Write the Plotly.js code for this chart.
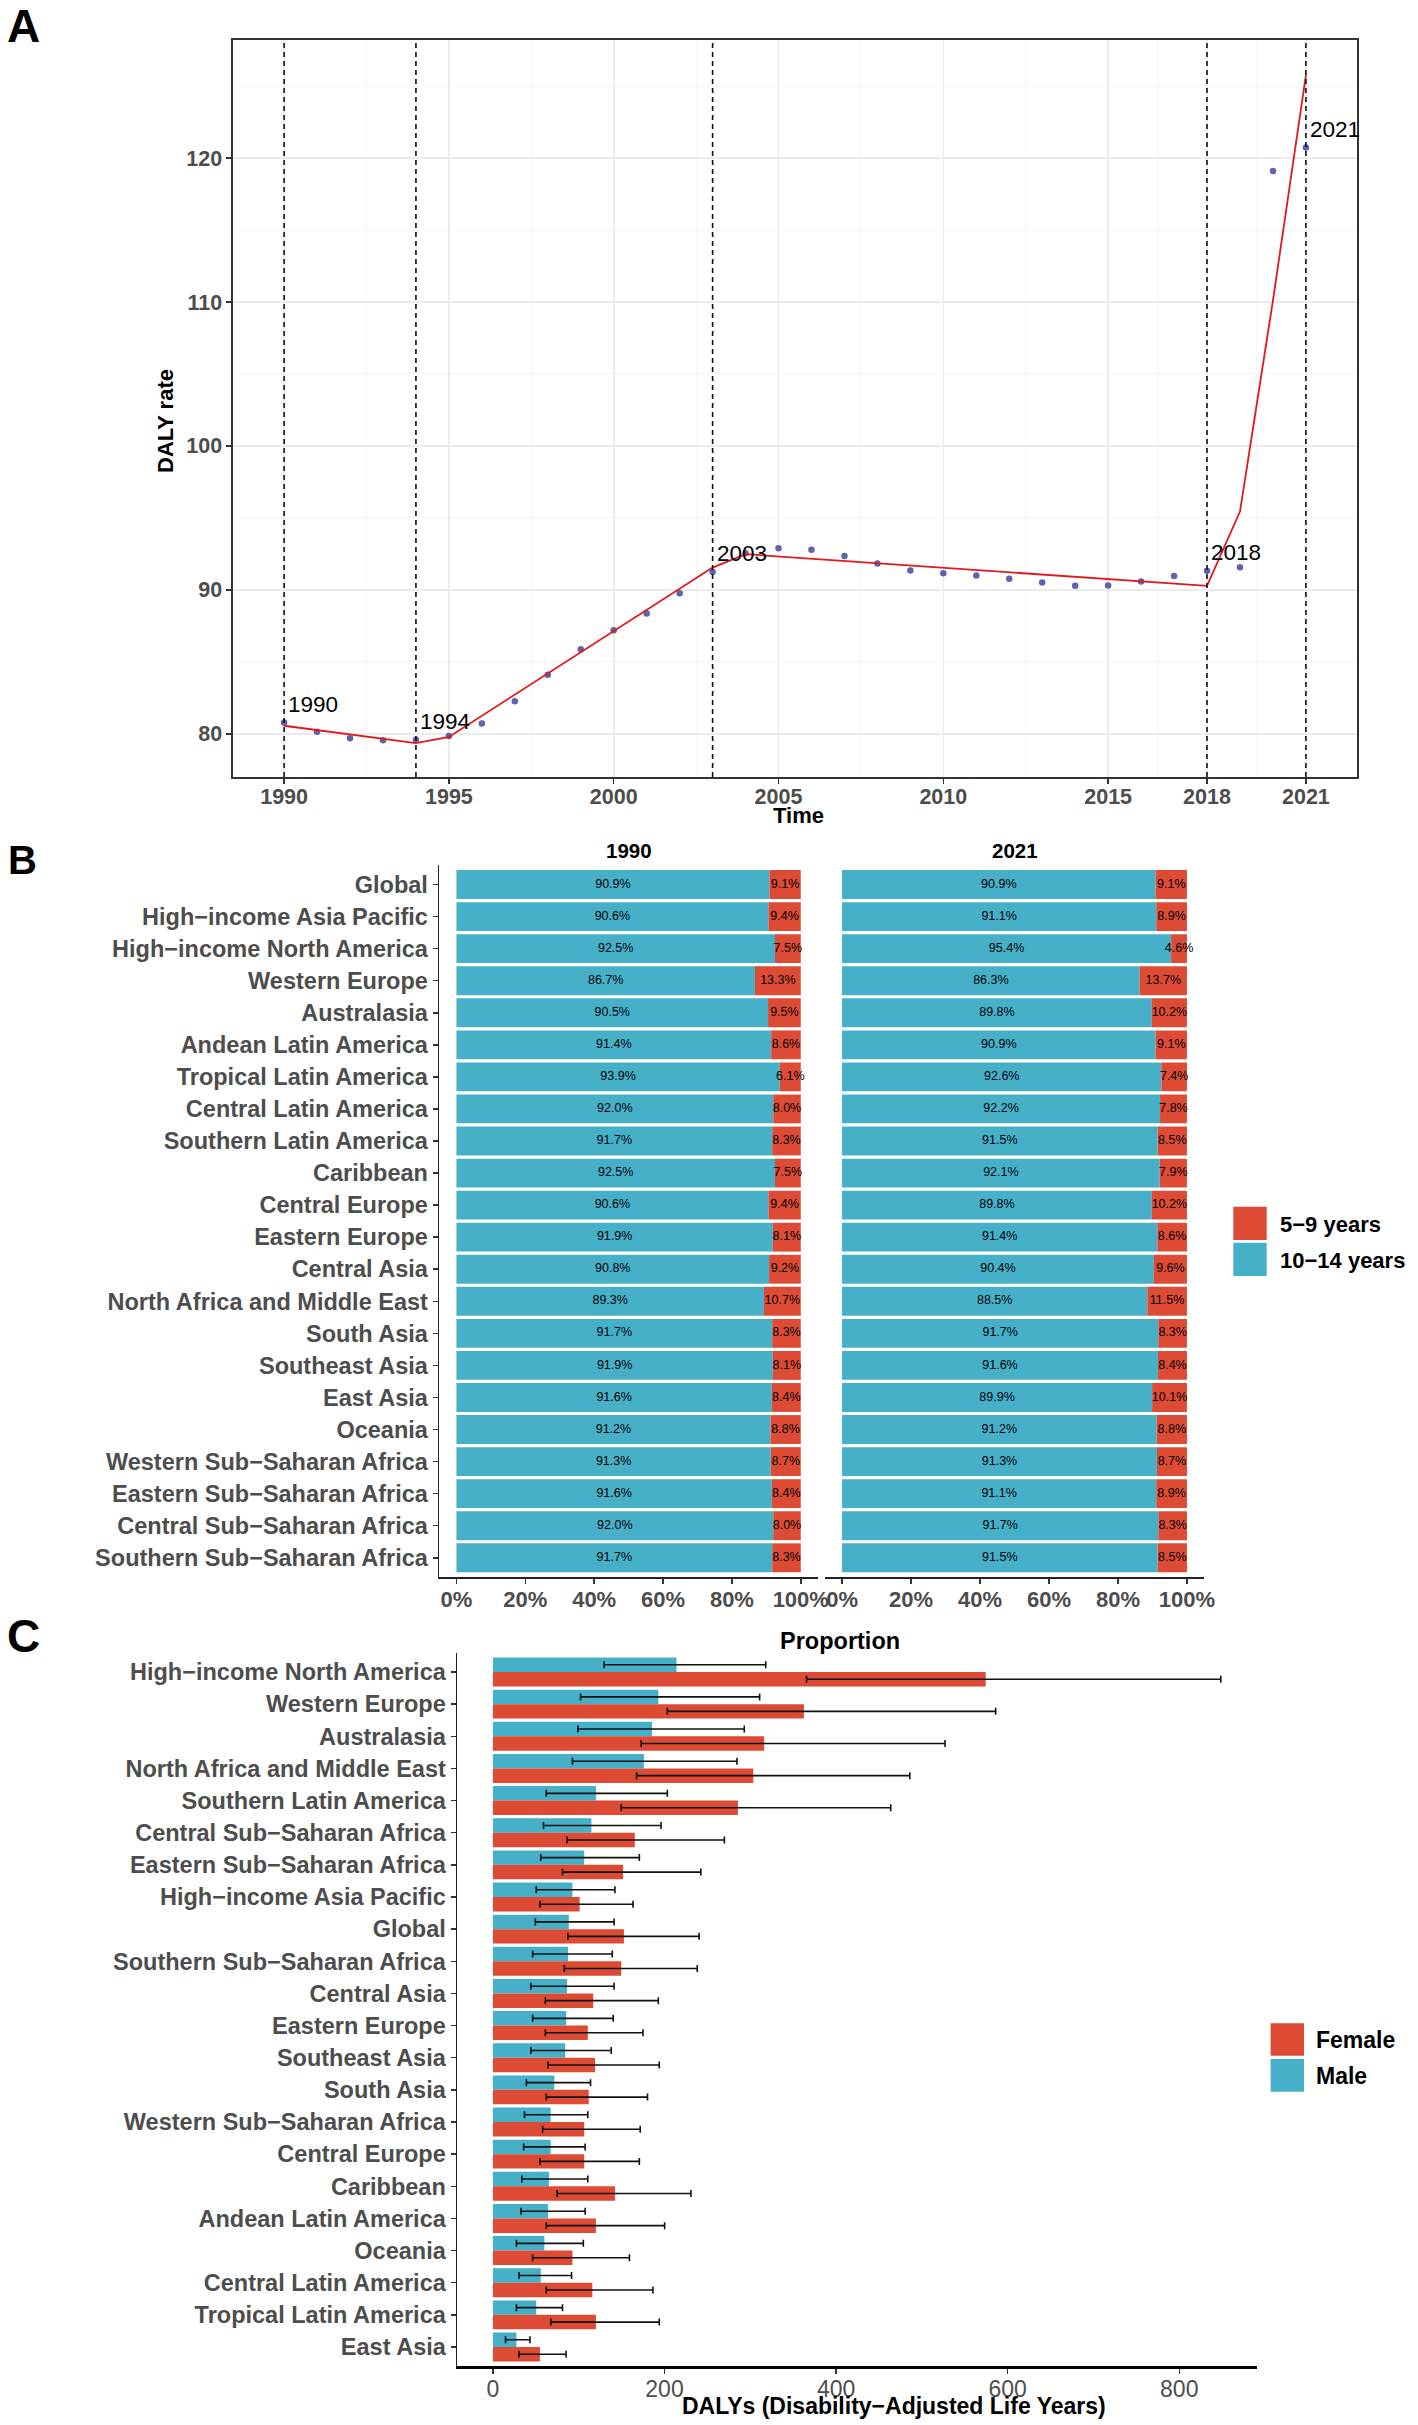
<!DOCTYPE html>
<html><head><meta charset="utf-8">
<script src="https://cdn.plot.ly/plotly-3.0.1.min.js"></script>
<style>html,body{margin:0;padding:0;background:#fff}#chart{width:1418px;height:2425px}</style>
</head><body><div id="chart"></div>
<script>
// ---------------- Panel A data ----------------
const years = [1990,1991,1992,1993,1994,1995,1996,1997,1998,1999,2000,2001,2002,2003,2004,2005,2006,2007,2008,2009,2010,2011,2012,2013,2014,2015,2016,2017,2018,2019,2020,2021];
const observedRate = [80.79,80.14,79.70,79.56,79.58,79.84,80.72,82.27,84.10,85.88,87.20,88.36,89.77,91.25,92.55,92.90,92.78,92.36,91.83,91.34,91.16,91.00,90.78,90.51,90.28,90.30,90.58,90.97,91.32,91.57,119.10,120.74];
const fitYears = [1990,1994,1995,2003,2004,2018,2019,2020,2021];
const fittedRate = [80.56,79.35,79.78,91.55,92.48,90.28,95.44,110.1,125.76];
const joinpointYears = [1990,1994,2003,2018,2021];
const xTickYears = [1990,1995,2000,2005,2010,2015,2018,2021];
const xMinorYears = [1992.5,1997.5,2002.5,2007.5,2012.5,2016.5,2019.5];
const yTicksA = [80,90,100,110,120];
const yMinorA = [85,95,105,115,125];

// ---------------- Panel B data ----------------
const regionsB = ["Global","High\u2212income Asia Pacific","High\u2212income North America","Western Europe","Australasia","Andean Latin America","Tropical Latin America","Central Latin America","Southern Latin America","Caribbean","Central Europe","Eastern Europe","Central Asia","North Africa and Middle East","South Asia","Southeast Asia","East Asia","Oceania","Western Sub\u2212Saharan Africa","Eastern Sub\u2212Saharan Africa","Central Sub\u2212Saharan Africa","Southern Sub\u2212Saharan Africa"];
const age1014_1990 = [90.9,90.6,92.5,86.7,90.5,91.4,93.9,92.0,91.7,92.5,90.6,91.9,90.8,89.3,91.7,91.9,91.6,91.2,91.3,91.6,92.0,91.7];
const age59_1990   = [9.1,9.4,7.5,13.3,9.5,8.6,6.1,8.0,8.3,7.5,9.4,8.1,9.2,10.7,8.3,8.1,8.4,8.8,8.7,8.4,8.0,8.3];
const age1014_2021 = [90.9,91.1,95.4,86.3,89.8,90.9,92.6,92.2,91.5,92.1,89.8,91.4,90.4,88.5,91.7,91.6,89.9,91.2,91.3,91.1,91.7,91.5];
const age59_2021   = [9.1,8.9,4.6,13.7,10.2,9.1,7.4,7.8,8.5,7.9,10.2,8.6,9.6,11.5,8.3,8.4,10.1,8.8,8.7,8.9,8.3,8.5];
const facetYears = ["1990","2021"];
const pctTicks = [0,0.2,0.4,0.6,0.8,1];
const ageGroups = ["5\u22129 years","10\u221214 years"];

// ---------------- Panel C data ----------------
const regionsC = ["High\u2212income North America","Western Europe","Australasia","North Africa and Middle East","Southern Latin America","Central Sub\u2212Saharan Africa","Eastern Sub\u2212Saharan Africa","High\u2212income Asia Pacific","Global","Southern Sub\u2212Saharan Africa","Central Asia","Eastern Europe","Southeast Asia","South Asia","Western Sub\u2212Saharan Africa","Central Europe","Caribbean","Andean Latin America","Oceania","Central Latin America","Tropical Latin America","East Asia"];
const maleDALY = [214.0,192.8,185.4,176.0,120.1,114.8,106.4,92.7,88.5,87.5,86.4,85.4,84.3,71.6,67.4,67.4,65.3,64.3,60.0,55.8,50.5,27.4];
const maleLo   = [129.6,102.2,99.0,92.7,62.2,59.0,55.8,50.5,49.5,46.3,44.2,46.3,44.2,39.0,36.8,35.8,33.7,32.7,27.4,30.5,27.4,14.7];
const maleHi   = [318.0,310.9,293.0,284.5,203.3,196.0,170.7,142.2,141.2,139.1,141.2,140.2,137.9,113.8,110.6,107.5,110.6,107.5,105.4,91.7,81.1,43.2];
const femaleDALY = [574.4,362.5,316.1,303.5,285.6,165.4,151.7,101.1,152.7,149.6,116.9,110.6,119.1,111.7,106.4,106.4,142.3,120.1,92.7,115.9,120.1,54.8];
const femaleLo   = [365.6,203.3,172.8,167.5,149.6,86.3,81.1,54.8,87.4,83.2,61.1,61.1,64.3,62.2,58.0,54.8,74.8,62.2,46.3,62.2,67.5,30.5];
const femaleHi   = [848.4,586.0,527.0,485.9,463.7,269.8,242.4,163.3,240.3,238.2,192.8,174.9,193.9,180.2,171.7,170.7,230.8,200.2,159.1,186.5,193.9,85.3];
const dalyTicks = [0,200,400,600,800];
const sexes = ["Female","Male"];

// ---------------- style ----------------
const F = "Liberation Sans, Arial, Helvetica, sans-serif";
const W = 1418, H = 2425;
const px = v => v / W;
const py = v => 1 - v / H;
const BLUE = "#46B0C8", RED = "#DD4B35";
const GREY = "#4D4D4D";
const fb = (size, color) => ({family: F, size: size, color: color || GREY, weight: "bold"});
const fr = (size, color) => ({family: F, size: size, color: color || GREY});

const traces = [];
// Panel A
traces.push({type:"scatter", mode:"markers", x:years, y:observedRate, xaxis:"x", yaxis:"y",
  marker:{color:"#6262AC", size:6.5}, cliponaxis:false, showlegend:false});
traces.push({type:"scatter", mode:"lines", x:fitYears, y:fittedRate, xaxis:"x", yaxis:"y",
  line:{color:"#E3171C", width:1.8}, showlegend:false});

// Panel B
function facet(blue, red, xa, ya) {
  const b = blue.map(v => v/100), r = red.map(v => v/100);
  traces.push({type:"bar", orientation:"h", x:b, y:regionsB, xaxis:xa, yaxis:ya, width:0.9,
    marker:{color:BLUE, line:{width:0}}, showlegend:false});
  traces.push({type:"bar", orientation:"h", x:r, base:b, y:regionsB, xaxis:xa, yaxis:ya, width:0.9,
    marker:{color:RED, line:{width:0}}, showlegend:false});
  traces.push({type:"scatter", mode:"text", x:b.map(v => v/2), y:regionsB, xaxis:xa, yaxis:ya,
    text:blue.map(v => v.toFixed(1)+"%"), textposition:"middle center",
    textfont:{family:F, size:12.5, color:"#000"}, cliponaxis:false, showlegend:false});
  traces.push({type:"scatter", mode:"text", x:b.map((v,i) => v + r[i]/2), y:regionsB, xaxis:xa, yaxis:ya,
    text:red.map(v => v.toFixed(1)+"%"), textposition:"middle center",
    textfont:{family:F, size:12.5, color:"#000"}, cliponaxis:false, showlegend:false});
}
facet(age1014_1990, age59_1990, "x2", "y2");
facet(age1014_2021, age59_2021, "x3", "y3");

// Panel C
const errStyle = {color:"#111", thickness:1.6, width:3.5};
traces.push({type:"bar", orientation:"h", name:sexes[1], x:maleDALY, y:regionsC, xaxis:"x4", yaxis:"y4",
  width:0.45, offset:-0.45, marker:{color:BLUE, line:{width:0}}, showlegend:false,
  error_x:Object.assign({type:"data", symmetric:false,
    array:maleHi.map((v,i) => v - maleDALY[i]), arrayminus:maleDALY.map((v,i) => v - maleLo[i])}, errStyle)});
traces.push({type:"bar", orientation:"h", name:sexes[0], x:femaleDALY, y:regionsC, xaxis:"x4", yaxis:"y4",
  width:0.45, offset:0, marker:{color:RED, line:{width:0}}, showlegend:false,
  error_x:Object.assign({type:"data", symmetric:false,
    array:femaleHi.map((v,i) => v - femaleDALY[i]), arrayminus:femaleDALY.map((v,i) => v - femaleLo[i])}, errStyle)});

// ---------------- layout ----------------
const nB = regionsB.length, nC = regionsC.length;
const yDomB = [py(1577), py(865.3)];
const layout = {
  width: W, height: H, margin:{l:0, r:0, t:0, b:0}, paper_bgcolor:"#fff", plot_bgcolor:"#fff",
  barmode:"overlay", hovermode:false, showlegend:false, font:{family:F},
  // Panel A
  xaxis:{domain:[px(233), px(1357)], anchor:"y", range:[1988.45, 2022.55], tickmode:"array", tickvals:xTickYears,
    ticks:"outside", ticklen:5, tickwidth:1.5, tickcolor:"#333", tickfont:fb(21.5), ticklabelstandoff:-5,
    showline:true, mirror:true, linecolor:"#333", linewidth:1.6, zeroline:false,
    showgrid:true, gridcolor:"#EBEBEB", gridwidth:1.6,
    minor:{tickmode:"array", tickvals:xMinorYears, showgrid:true, gridcolor:"#F3F3F3", gridwidth:0.9, ticks:""}},
  yaxis:{domain:[py(777), py(40)], anchor:"x", range:[77.0, 128.2], tickmode:"array", tickvals:yTicksA,
    ticks:"outside", ticklen:5, tickwidth:1.5, tickcolor:"#333", tickfont:fb(21.5),
    showline:true, mirror:true, linecolor:"#333", linewidth:1.6, zeroline:false,
    showgrid:true, gridcolor:"#EBEBEB", gridwidth:1.6,
    minor:{tickmode:"array", tickvals:yMinorA, showgrid:true, gridcolor:"#F3F3F3", gridwidth:0.9, ticks:""}},
  // Panel B facet 1990
  xaxis2:{domain:[px(439.2), px(818)], anchor:"y2", range:[-0.05, 1.05], tickmode:"array", tickvals:pctTicks,
    tickformat:".0%", ticks:"outside", ticklen:5, tickwidth:1.5, tickcolor:"#333", tickfont:fb(22), ticklabelstandoff:-3,
    showline:true, linecolor:"#222", linewidth:2, showgrid:false, zeroline:false},
  yaxis2:{domain:yDomB, anchor:"x2", type:"category", categoryorder:"array", categoryarray:regionsB,
    range:[nB - 0.4, -0.6], tickmode:"array", tickvals:regionsB, ticks:"outside", ticklen:5, tickwidth:1.5,
    tickcolor:"#333", tickfont:fb(23.5), showline:true, linecolor:"#222", linewidth:1.6, showgrid:false, zeroline:false},
  // Panel B facet 2021
  xaxis3:{domain:[px(824.8), px(1204.2)], anchor:"y3", range:[-0.05, 1.05], tickmode:"array", tickvals:pctTicks,
    tickformat:".0%", ticks:"outside", ticklen:5, tickwidth:1.5, tickcolor:"#333", tickfont:fb(22), ticklabelstandoff:-3,
    showline:true, linecolor:"#222", linewidth:2, showgrid:false, zeroline:false},
  yaxis3:{domain:yDomB, anchor:"x3", type:"category", categoryorder:"array", categoryarray:regionsB,
    range:[nB - 0.4, -0.6], showticklabels:false, ticks:"", showline:false, showgrid:false, zeroline:false},
  // Panel C
  xaxis4:{domain:[px(456.7), px(1257)], anchor:"y4", range:[-42.2, 890.6], tickmode:"array", tickvals:dalyTicks,
    ticks:"outside", ticklen:5, tickwidth:1.5, tickcolor:"#333", tickfont:fr(23), ticklabelstandoff:-5,
    showline:true, linecolor:"#000", linewidth:2.6, showgrid:false, zeroline:false},
  yaxis4:{domain:[py(2366.3), py(1652.7)], anchor:"x4", type:"category", categoryorder:"array", categoryarray:regionsC,
    range:[nC - 0.4, -0.6], tickmode:"array", tickvals:regionsC, ticks:"outside", ticklen:5, tickwidth:1.5,
    tickcolor:"#333", tickfont:fb(23.5), showline:true, linecolor:"#222", linewidth:1.2, showgrid:false, zeroline:false},
  shapes: [], annotations: []
};

// dashed joinpoint lines
joinpointYears.forEach(yr => layout.shapes.push({type:"line", xref:"x", yref:"y domain", x0:yr, x1:yr, y0:0, y1:1,
  layer:"above", line:{color:"#111", width:1.6, dash:"5px,4px"}}));
// joinpoint labels
joinpointYears.forEach(yr => layout.annotations.push({xref:"x", yref:"y", x:yr, y:observedRate[years.indexOf(yr)],
  text:String(yr), showarrow:false, xanchor:"left", yanchor:"middle", xshift:2, yshift:18, font:fr(22.5, "#000")}));

// panel letters
layout.annotations.push({xref:"paper", yref:"paper", x:px(5), y:py(26), text:"<b>A</b>", showarrow:false, xanchor:"left", yanchor:"middle", font:{family:F, size:46, color:"#000"}});
layout.annotations.push({xref:"paper", yref:"paper", x:px(6), y:py(860), text:"<b>B</b>", showarrow:false, xanchor:"left", yanchor:"middle", font:{family:F, size:40, color:"#000"}});
layout.annotations.push({xref:"paper", yref:"paper", x:px(5), y:py(1636), text:"<b>C</b>", showarrow:false, xanchor:"left", yanchor:"middle", font:{family:F, size:46, color:"#000"}});

// Panel A titles
layout.annotations.push({xref:"paper", yref:"paper", x:px(798), y:py(815), text:"Time", showarrow:false, xanchor:"center", yanchor:"middle", font:fb(22, "#000")});
layout.annotations.push({xref:"paper", yref:"paper", x:px(165), y:py(421), text:"DALY rate", textangle:-90, showarrow:false, xanchor:"center", yanchor:"middle", font:fb(22, "#000")});

// Panel B facet strips
layout.annotations.push({xref:"x2 domain", yref:"paper", x:0.5, y:py(851), text:facetYears[0], showarrow:false, xanchor:"center", yanchor:"middle", font:fb(20.5, "#000")});
layout.annotations.push({xref:"x3 domain", yref:"paper", x:0.5, y:py(851), text:facetYears[1], showarrow:false, xanchor:"center", yanchor:"middle", font:fb(20.5, "#000")});

// Panel B legend
layout.shapes.push({type:"rect", xref:"paper", yref:"paper", x0:px(1233.3), x1:px(1266.7), y0:py(1240), y1:py(1206.7), line:{width:0}, fillcolor:RED});
layout.shapes.push({type:"rect", xref:"paper", yref:"paper", x0:px(1233.3), x1:px(1266.7), y0:py(1276), y1:py(1242.7), line:{width:0}, fillcolor:BLUE});
layout.annotations.push({xref:"paper", yref:"paper", x:px(1278), y:py(1224), text:ageGroups[0], showarrow:false, xanchor:"left", yanchor:"middle", font:fb(22, "#000")});
layout.annotations.push({xref:"paper", yref:"paper", x:px(1278), y:py(1260), text:ageGroups[1], showarrow:false, xanchor:"left", yanchor:"middle", font:fb(22, "#000")});

// Panel C titles
layout.annotations.push({xref:"paper", yref:"paper", x:px(840), y:py(1641), text:"Proportion", showarrow:false, xanchor:"center", yanchor:"middle", font:fb(23.5, "#000")});
layout.annotations.push({xref:"paper", yref:"paper", x:px(894), y:py(2406), text:"DALYs (Disability\u2212Adjusted Life Years)", showarrow:false, xanchor:"center", yanchor:"middle", font:fb(23, "#000")});

// Panel C legend
layout.shapes.push({type:"rect", xref:"paper", yref:"paper", x0:px(1270.6), x1:px(1304), y0:py(2055.7), y1:py(2023.3), line:{width:0}, fillcolor:RED});
layout.shapes.push({type:"rect", xref:"paper", yref:"paper", x0:px(1270.6), x1:px(1304), y0:py(2091.7), y1:py(2059), line:{width:0}, fillcolor:BLUE});
layout.annotations.push({xref:"paper", yref:"paper", x:px(1314), y:py(2040), text:sexes[0], showarrow:false, xanchor:"left", yanchor:"middle", font:fb(23, "#000")});
layout.annotations.push({xref:"paper", yref:"paper", x:px(1314), y:py(2076), text:sexes[1], showarrow:false, xanchor:"left", yanchor:"middle", font:fb(23, "#000")});

Plotly.newPlot("chart", traces, layout, {staticPlot:true, displayModeBar:false});
</script>
</body></html>
